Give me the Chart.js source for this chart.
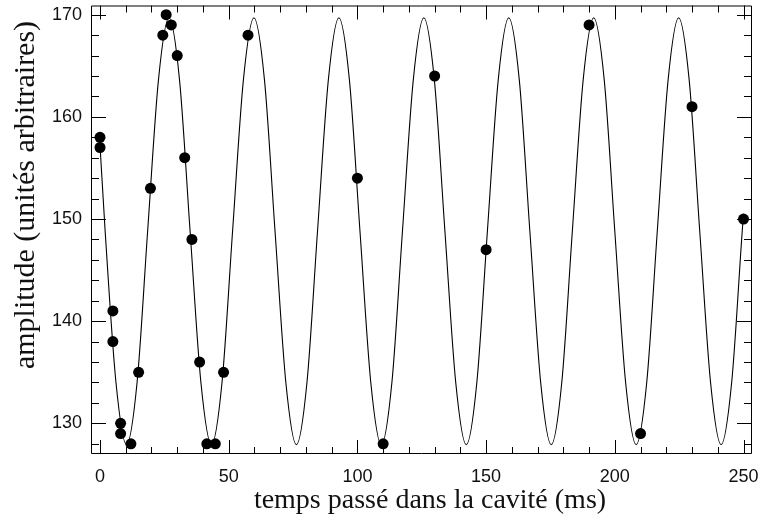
<!DOCTYPE html>
<html>
<head>
<meta charset="utf-8">
<script src="https://cdn.jsdelivr.net/npm/chart.js@4/dist/chart.umd.min.js"></script>
<style>
  html, body { margin: 0; padding: 0; background: #fff; }
  canvas { display: block; }
</style>
</head>
<body>
<canvas id="chart" width="761" height="528"></canvas>
<script>
// measured points
const pointTimes = [0, 0, 5, 5, 8, 8, 12, 15, 19.6, 24.4, 25.7, 27.7, 30, 32.9, 35.7, 38.7, 41.5, 44.8, 48, 57.5,
  100, 110, 130, 150, 190, 210, 230, 250];
const pointAmplitudes = [158, 157, 141, 138, 130, 129, 128, 135, 153, 168, 170, 169, 166, 156, 148, 136, 128, 128, 135, 168,
  154, 128, 164, 147, 169, 129, 161, 150];

// fitted curve (troughs, peaks and the points between)
const curveTimes = [0, 2.0, 6.2, 10.3, 14.4, 18.5, 22.7, 26.8, 30.9, 35.0, 39.2, 43.3, 47.4, 51.5, 55.7, 59.8,
  63.9, 68.0, 72.2, 76.3, 80.4, 84.5, 88.7, 92.8, 96.9, 101.0, 105.2, 109.3, 113.4, 117.5, 121.7, 125.8,
  129.9, 134.0, 138.2, 142.3, 146.4, 150.5, 154.7, 158.8, 162.9, 167.0, 171.2, 175.3, 179.4, 183.5, 187.7, 191.8,
  195.9, 200.0, 204.2, 208.3, 212.4, 216.5, 220.7, 224.8, 228.9, 233.0, 237.2, 241.3, 245.4, 249.5, 250];
const curveAmplitudes = [157.2, 148.8, 134.0, 127.9, 134.0, 148.8, 163.6, 169.7, 163.6, 148.8, 134.0, 127.9, 134.0, 148.8, 163.6, 169.7,
  163.6, 148.8, 134.0, 127.9, 134.0, 148.8, 163.6, 169.7, 163.6, 148.8, 134.0, 127.9, 134.0, 148.8, 163.6, 169.7,
  163.6, 148.8, 134.0, 127.9, 134.0, 148.8, 163.6, 169.7, 163.6, 148.8, 134.0, 127.9, 134.0, 148.8, 163.6, 169.7,
  163.6, 148.8, 134.0, 127.9, 134.0, 148.8, 163.6, 169.7, 163.6, 148.8, 134.0, 127.9, 134.0, 148.8, 150.5];

const xTickLabels = [0, 50, 100, 150, 200, 250];
const yTickLabels = [130, 140, 150, 160, 170];
const xMinorTicks = [10, 20, 30, 40, 60, 70, 80, 90, 110, 120, 130, 140, 160, 170, 180, 190, 210, 220, 230, 240];
const yMinorTicks = [128, 132, 134, 136, 138, 142, 144, 146, 148, 152, 154, 156, 158, 162, 164, 166, 168];

const xTitle = "temps passé dans la cavité (ms)";
const yTitle = "amplitude (unités arbitraires)";

const frameAndTicks = {
  id: "frameAndTicks",
  afterDatasetsDraw(chart) {
    const { ctx, chartArea: area, scales } = chart;
    const x = scales.x;
    const y = scales.y;
    ctx.save();
    ctx.strokeStyle = "#000";
    ctx.lineWidth = 1;
    ctx.beginPath();
    ctx.rect(area.left + 0.5, area.top + 0.5, area.width - 1, area.height - 1);

    const vTick = (value, len) => {
      const px = Math.round(x.getPixelForValue(value)) + 0.5;
      ctx.moveTo(px, area.bottom);
      ctx.lineTo(px, area.bottom - len);
      ctx.moveTo(px, area.top);
      ctx.lineTo(px, area.top + len);
    };
    const hTick = (value, len) => {
      const py = Math.round(y.getPixelForValue(value)) + 0.5;
      ctx.moveTo(area.left, py);
      ctx.lineTo(area.left + len, py);
      ctx.moveTo(area.right, py);
      ctx.lineTo(area.right - len, py);
    };
    xTickLabels.forEach((v) => vTick(v, 14));
    xMinorTicks.forEach((v) => vTick(v, 7));
    yTickLabels.forEach((v) => hTick(v, 15));
    yMinorTicks.forEach((v) => hTick(v, 8));
    ctx.stroke();

    ctx.fillStyle = "#111";
    ctx.font = "28px 'Liberation Serif', 'DejaVu Serif', serif";
    ctx.textAlign = "center";
    ctx.textBaseline = "alphabetic";
    ctx.fillText(xTitle, 430, 508);

    ctx.font = "30px 'Liberation Serif', 'DejaVu Serif', serif";
    ctx.translate(34, 195);
    ctx.rotate(-Math.PI / 2);
    ctx.fillText(yTitle, 0, 0);
    ctx.restore();
  },
};

new Chart(document.querySelector("#chart"), {
  type: "scatter",
  data: {
    datasets: [
      {
        label: "mesures",
        data: pointTimes.map((t, i) => ({ x: t, y: pointAmplitudes[i] })),
        backgroundColor: "#000",
        borderWidth: 0,
        pointRadius: 5.5,
        pointHoverRadius: 5.5,
      },
      {
        label: "ajustement",
        data: curveTimes.map((t, i) => ({ x: t, y: curveAmplitudes[i] })),
        showLine: true,
        borderColor: "#000",
        borderWidth: 1.1,
        pointRadius: 0,
        cubicInterpolationMode: "monotone",
      },
    ],
  },
  options: {
    responsive: false,
    animation: false,
    layout: { padding: { left: 0, right: 9, top: 4, bottom: 0 } },
    plugins: { legend: { display: false }, tooltip: { enabled: false } },
    scales: {
      x: {
        type: "linear",
        min: -3.5,
        max: 253.3,
        afterBuildTicks: (scale) => { scale.ticks = xTickLabels.map((v) => ({ value: v })); },
        afterFit: (scale) => {
          scale.height = 74;
          scale.paddingLeft = 0;
          scale.paddingRight = 0;
        },
        grid: { display: false, drawTicks: false },
        border: { display: false },
        ticks: { color: "#111", padding: 12, maxRotation: 0, font: { family: "'Liberation Sans', Arial", size: 18 } },
      },
      y: {
        type: "linear",
        min: 127.0,
        max: 170.9,
        afterBuildTicks: (scale) => { scale.ticks = yTickLabels.map((v) => ({ value: v })); },
        afterFit: (scale) => {
          scale.width = 91;
          scale.paddingTop = 0;
          scale.paddingBottom = 0;
        },
        grid: { display: false, drawTicks: false },
        border: { display: false },
        ticks: { color: "#111", padding: 9, font: { family: "'Liberation Sans', Arial", size: 18 } },
      },
    },
  },
  plugins: [frameAndTicks],
});
</script>
</body>
</html>
